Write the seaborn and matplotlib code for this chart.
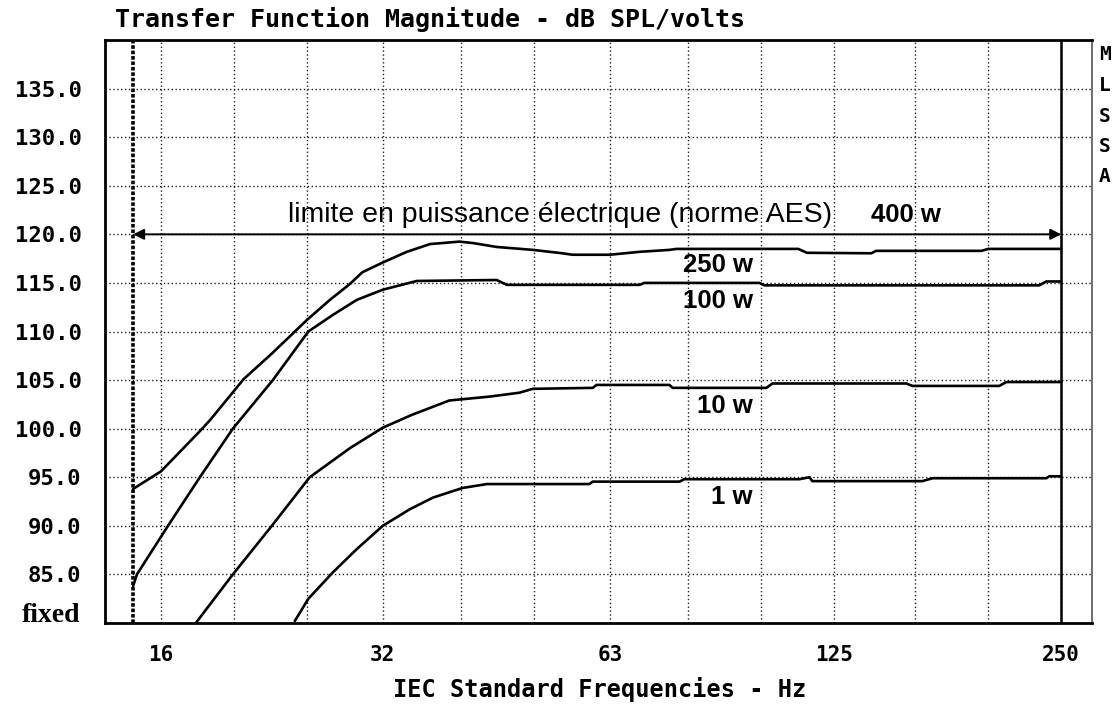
import matplotlib
matplotlib.use("Agg")
import matplotlib.pyplot as plt
import pandas as pd
import seaborn as sns
from matplotlib.ticker import NullFormatter

# --- data (Hz, dB SPL) ---
freq_250w = [14.7, 16.0, 18.0, 18.6, 20.6, 22.5, 25.0, 26.8, 28.5, 29.6, 31.5, 33.9, 36.4,
             39.8, 41.5, 44.6, 49.8, 54.5, 56.2, 63.0, 69.0, 75.6, 77.2, 112, 115, 140,
             142, 196, 200, 250]
db_250w = [93.8, 95.6, 99.7, 100.9, 105.1, 107.8, 111.2, 113.25, 114.9, 116.1, 117.1, 118.2,
           119.0, 119.25, 119.1, 118.7, 118.4, 118.05, 117.9, 117.9, 118.2, 118.4, 118.5,
           118.5, 118.1, 118.05, 118.3, 118.3, 118.5, 118.5]

freq_100w = [14.7, 14.87, 16.35, 18.02, 19.93, 22.52, 25.1, 27.04, 29.09, 31.5, 34.94, 44.6,
             46.0, 69.0, 70.0, 99.5, 101.0, 233.7, 238.8, 250]
db_100w = [83.8, 85.0, 90.0, 95.0, 100.0, 105.0, 110.0, 111.7, 113.25, 114.3, 115.2, 115.3,
           114.8, 114.8, 115.0, 115.0, 114.75, 114.75, 115.15, 115.15]

freq_10w = [17.8, 19.93, 22.45, 25.2, 26.8, 28.5, 31.5, 34.5, 38.6, 43.65, 47.8, 49.8, 59.8,
            60.5, 75.6, 76.3, 101.6, 103.5, 155.8, 158.7, 206.9, 211.4, 250]
db_10w = [80.0, 85.0, 90.0, 95.0, 96.5, 98.0, 100.1, 101.45, 102.9, 103.3, 103.7, 104.1,
          104.2, 104.5, 104.5, 104.2, 104.2, 104.65, 104.65, 104.4, 104.4, 104.8, 104.8]

freq_1w = [24.08, 25.1, 27.04, 29.09, 31.5, 34.2, 36.7, 40.2, 43.3, 49.3, 59.2, 59.8, 77.95,
           79.1, 112.4, 115.9, 116.9, 163.6, 168.7, 238.8, 241, 250]
db_1w = [80.2, 82.5, 85.2, 87.6, 90.0, 91.7, 92.9, 93.9, 94.3, 94.3, 94.3, 94.55, 94.55,
         94.8, 94.8, 95.0, 94.6, 94.6, 94.9, 94.9, 95.1, 95.1]

powers = ["250 w", "100 w", "10 w", "1 w"]
limit_db = 120.0
freq_start, freq_end = 14.7, 250

third_octaves = [16, 20, 25, 31.5, 40, 50, 63, 80, 100, 125, 160, 200, 250]
octave_ticks = [16, 31.5, 63, 125, 250]
octave_labels = ["16", "32", "63", "125", "250"]
db_ticks = [85, 90, 95, 100, 105, 110, 115, 120, 125, 130, 135]

rows = []
for name, fr, db in zip(powers, [freq_250w, freq_100w, freq_10w, freq_1w],
                        [db_250w, db_100w, db_10w, db_1w]):
    for f, d in zip(fr, db):
        rows.append({"freq": f, "db": d, "power": name})
df = pd.DataFrame(rows)

sns.set_style("white")
plt.rcParams["font.family"] = ["DejaVu Sans Mono", "DejaVu Sans"]
plt.rcParams["text.color"] = "black"
plt.rcParams["xtick.color"] = "black"
plt.rcParams["ytick.color"] = "black"
mono = "DejaVu Sans Mono"
sans = "Liberation Sans"

fig = plt.figure(figsize=(11.2, 7.04), dpi=100)
ax = fig.add_axes([105 / 1120, 1 - 623 / 704, (1092 - 105) / 1120, (623 - 40) / 704])

ax.set_xscale("log", base=2)
ax.set_xlim(13.49, 274.6)
ax.set_ylim(80, 140)

dots = (0, (1.0, 1.8))
for f in third_octaves:
    ax.axvline(f, color="#222222", lw=1.0, ls=dots, zorder=1)
for v in db_ticks:
    ax.axhline(v, color="#222222", lw=1.0, ls=dots, zorder=1)

sns.lineplot(data=df, x="freq", y="db", hue="power", palette=["black"] * 4,
             estimator=None, legend=False, lw=1.9, ax=ax, zorder=3)

# measurement window borders
ax.axvline(freq_start, color="black", lw=2.6, ls=(0, (1.0, 0.5)), zorder=2)
ax.axvline(freq_end, color="black", lw=1.8, zorder=2)

ax.annotate("", xy=(freq_start, limit_db), xytext=(freq_end, limit_db),
            arrowprops=dict(arrowstyle="<|-|>", lw=1.4, color="black",
                            mutation_scale=16, shrinkA=0, shrinkB=0), zorder=4)

ax.text(54.2, 122.0, "limite en puissance électrique (norme AES)", ha="center",
        va="center", fontsize=20.5, family=sans, color="black")
ax.text(155.7, 122.0, "400 w", ha="center", va="center", fontsize=18.5,
        fontweight="bold", family=sans, color="black")
label_y = [116.85, 113.1, 102.3, 92.95]
for name, y in zip(powers, label_y):
    ax.text(97.4, y, name, ha="right", va="center", fontsize=18.5,
            fontweight="bold", family=sans, color="black")

ax.set_xticks(octave_ticks, labels=octave_labels)
ax.set_xticks([f for f in third_octaves if f not in octave_ticks], minor=True)
ax.xaxis.set_minor_formatter(NullFormatter())
ax.set_yticks(db_ticks, labels=[f"{v:.1f}" for v in db_ticks])
ax.yaxis.set_minor_locator(matplotlib.ticker.NullLocator())

ax.tick_params(axis="x", which="major", direction="out", length=9, width=1.2,
               pad=7, labelsize=15)
ax.tick_params(axis="x", which="minor", direction="out", length=4, width=0.8)
ax.tick_params(axis="y", which="major", direction="out", length=5, width=1.2,
               pad=12, labelsize=16)
for lab in ax.get_xticklabels() + ax.get_yticklabels():
    lab.set_fontweight("bold")
    lab.set_family(mono)

for side in ["left", "bottom", "top"]:
    ax.spines[side].set_linewidth(2.0)
    ax.spines[side].set_color("black")
ax.spines["right"].set_linewidth(1.2)
ax.spines["right"].set_color("#555555")

ax.set_xlabel("")
ax.set_ylabel("")

fig.text(600 / 1120, 1 - 689 / 704, "IEC Standard Frequencies - Hz", ha="center",
         va="center", fontsize=17, fontweight="bold", family=mono)
fig.text(115 / 1120, 1 - 19 / 704, "Transfer Function Magnitude - dB SPL/volts",
         ha="left", va="center", fontsize=18, fontweight="bold", family=mono)
fig.text(80 / 1120, 1 - 615 / 704, "fixed", ha="right", va="center", fontsize=20,
         fontweight="bold", family="Liberation Serif")
for i, ch in enumerate("MLSSA"):
    fig.text(1105 / 1120, 1 - (55 + 30.5 * i) / 704, ch, ha="center", va="center",
             fontsize=14, fontweight="bold", family=mono)

fig.savefig("out.png", dpi=100)
